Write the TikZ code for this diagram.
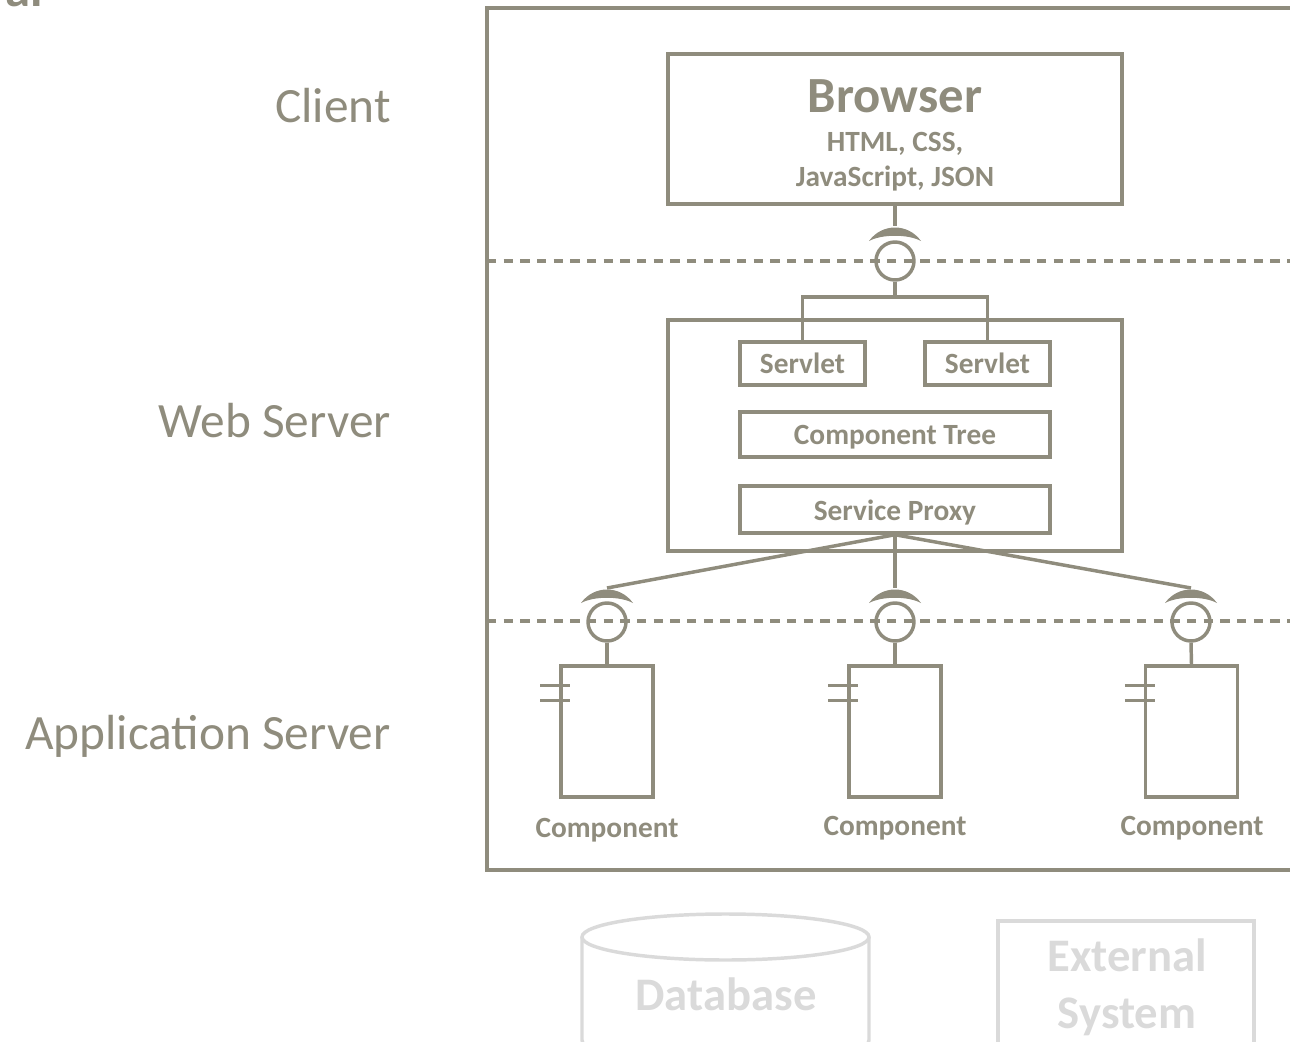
\documentclass[tikz,border=0pt]{standalone}
\usepackage{fontspec}
\setmainfont{Carlito}
\definecolor{ink}{RGB}{143,140,125}
\definecolor{pale}{RGB}{218,218,218}
\newcommand\tierfont{\fontsize{37}{44}\selectfont}
\newcommand\boxfont{\bfseries\fontsize{22}{26}\selectfont}
\newcommand\palefont{\bfseries\fontsize{35}{42}\selectfont}

\begin{document}
\begin{tikzpicture}[x=0.75pt,y=-0.75pt,
  box/.style={draw=ink, line width=2.6pt, inner sep=0pt},
  lbl/.style={text=ink, font=\boxfont, inner sep=0pt, anchor=base},
  tier/.style={text=ink, font=\tierfont, inner sep=0pt, anchor=base east},
  ball/.style={circle, draw=ink, line width=2.6pt, minimum size=28.5pt, inner sep=0pt},
  comp/.style={box, minimum width=69pt, minimum height=98.25pt},
  link/.style={draw=ink, line width=2.6pt},
  divider/.style={draw=ink, line width=2.3pt, dash pattern=on 7pt off 5.5pt},
  paleline/.style={draw=pale, line width=2.6pt},
  palelbl/.style={text=pale, font=\palefont, inner sep=0pt, anchor=base}]

\useasboundingbox (0,0) rectangle (1290,1042);
\clip (0,0) rectangle (1290,1042);

% heading running off the top edge
\begin{scope}
  \clip (0,0) rectangle (80,9);
  \node[text=ink, font=\bfseries\fontsize{38}{44}\selectfont, inner sep=0pt, anchor=base east] (heading) at (43,7) {al};
\end{scope}

% tier names
\node[tier] (tclient) at (391,122) {Client};
\node[tier] (tweb) at (391,437) {Web Server};
\node[tier] (tapp) at (391,749) {Application Server};

% system frame and tier dividers
\coordinate (ftl) at (487,8);
\coordinate (fbl) at (487,870);
\draw[link] (1300,8) -- (ftl) -- (fbl) -- (1300,870);
\draw[divider] (487,261) -- (1300,261);
\draw[divider] (487,621) -- (1300,621);

% client
\node[box, minimum width=340.5pt, minimum height=112.5pt] (browser) at (895,129) {};
\node[text=ink, font=\bfseries\fontsize{38}{44}\selectfont, inner sep=0pt, anchor=base] (btitle) at (895,112) {Browser};
\node[lbl] (bl1) at (895,151) {HTML, CSS,};
\node[lbl] (bl2) at (895,186) {JavaScript, JSON};

% web server
\node[box, minimum width=340.5pt, minimum height=173.25pt] (web) at (895,435.5) {};
\node[box, minimum width=93.75pt, minimum height=32.25pt] (sv1) at (802.5,363.5) {};
\node[box, minimum width=93.75pt, minimum height=32.25pt] (sv2) at (987.5,363.5) {};
\node[box, minimum width=232.5pt, minimum height=33.75pt] (ctree) at (895,434.5) {};
\node[box, minimum width=232.5pt, minimum height=35.25pt] (proxy) at (895,509.5) {};
\node[lbl] (sv1t) at (802.5,373) {Servlet};
\node[lbl] (sv2t) at (987.5,373) {Servlet};
\node[lbl] (ctreet) at (895,444) {Component Tree};
\node[lbl] (proxyt) at (895,520) {Service Proxy};

% application server components
\node[comp] (c1) at (607,731.5) {};
\node[comp] (c2) at (895,731.5) {};
\node[comp] (c3) at (1191.5,731.5) {};
\node[lbl] (c1t) at (607,837) {Component};
\node[lbl] (c2t) at (895,835) {Component};
\node[lbl] (c3t) at (1192,835) {Component};
\foreach \c in {c1,c2,c3}{
  \draw[link] (\c.north west) ++(-19,21) -- ++(30,0);
  \draw[link] (\c.north west) ++(-19,36) -- ++(30,0);
}

% provided interfaces (balls) and required interfaces (sockets)
\node[ball] (b0) at (895,261) {};
\node[ball] (b1) at (607,622) {};
\node[ball] (b2) at (895,622) {};
\node[ball] (b3) at (1191,622) {};
\coordinate (k0) at (895,226);
\coordinate (k1) at (607,588);
\coordinate (k2) at (895,588);
\coordinate (k3) at (1191,588);
\foreach \k in {k0,k1,k2,k3}{
  \fill[ink, shift={(\k)}] (-26,15) .. controls (-13,-3) and (13,-3) .. (26,15)
    .. controls (13,8) and (-13,8) .. cycle;
}

% connectors
\coordinate (j0) at (895,297);
\draw[link] (browser.south) -- (k0);
\draw[link] (b0.south) -- (j0);
\draw[link] (sv1.north) |- (j0) -| (sv2.north);
\draw[link] (proxy.south) -- (k1);
\draw[link] (proxy.south) -- (k2);
\draw[link] (proxy.south) -- (k3);
\draw[link] (b1.south) -- (c1.north);
\draw[link] (b2.south) -- (c2.north);
\draw[link] (b3.south) -- (c3.north);

% external resources
\draw[paleline] (582,937) -- (582,1040) .. controls (582,1071) and (869,1071) .. (869,1040) -- (869,937);
\draw[paleline] (725.5,937) ellipse [x radius=143.5, y radius=23];
\node[palelbl] (db) at (726,1010) {Database};
\node[draw=pale, line width=2.6pt, minimum width=192pt, minimum height=120pt, inner sep=0pt] (ext) at (1126,1001) {};
\node[palelbl] (ext1) at (1127,971) {External};
\node[palelbl] (ext2) at (1127,1028) {System};
\end{tikzpicture}
\end{document}
